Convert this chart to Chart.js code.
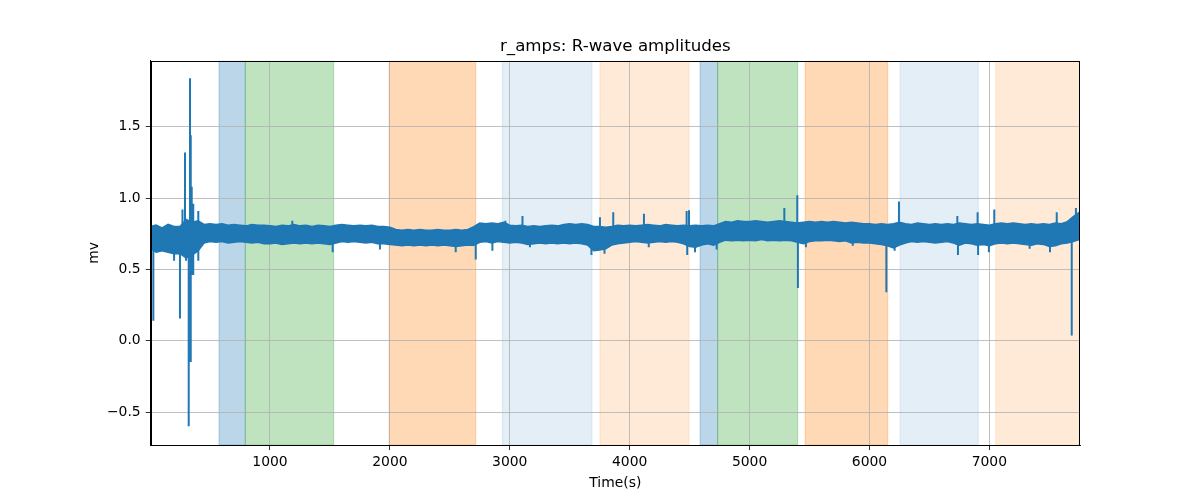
<!DOCTYPE html>
<html><head><meta charset="utf-8">
<script src="https://cdn.jsdelivr.net/npm/chart.js@4.4.0/dist/chart.umd.min.js"></script>
<style>html,body{margin:0;padding:0;background:#fff;}canvas{display:block;}</style>
</head><body>
<canvas id="c" width="1200" height="500"></canvas>
<script>
// ---- data ----
const envTime = [
  0,50,100,150,200,250,300,350,400,450,
  500,550,600,650,700,750,800,850,900,950,
  1000,1050,1100,1150,1200,1250,1300,1350,1400,1450,
  1500,1550,1600,1650,1700,1750,1800,1850,1900,1950,
  2000,2050,2100,2150,2200,2250,2300,2350,2400,2450,
  2500,2550,2600,2650,2700,2750,2800,2850,2900,2950,
  3000,3050,3100,3150,3200,3250,3300,3350,3400,3450,
  3500,3550,3600,3650,3700,3750,3800,3850,3900,3950,
  4000,4050,4100,4150,4200,4250,4300,4350,4400,4450,
  4500,4550,4600,4650,4700,4750,4800,4850,4900,4950,
  5000,5050,5100,5150,5200,5250,5300,5350,5400,5450,
  5500,5550,5600,5650,5700,5750,5800,5850,5900,5950,
  6000,6050,6100,6150,6200,6250,6300,6350,6400,6450,
  6500,6550,6600,6650,6700,6750,6800,6850,6900,6950,
  7000,7050,7100,7150,7200,7250,7300,7350,7400,7450,
  7500,7550,7600,7650,7700,7750,7760];
const envUpper = [
  0.80,0.81,0.79,0.815,0.80,0.80,0.85,0.83,0.84,0.815,
  0.82,0.815,0.82,0.81,0.815,0.81,0.805,0.815,0.81,0.81,
  0.805,0.80,0.81,0.805,0.815,0.805,0.81,0.80,0.81,0.805,
  0.80,0.81,0.815,0.81,0.805,0.81,0.805,0.81,0.80,0.80,
  0.795,0.78,0.775,0.78,0.775,0.78,0.775,0.775,0.78,0.775,
  0.775,0.78,0.775,0.78,0.80,0.825,0.82,0.825,0.82,0.83,
  0.81,0.805,0.81,0.80,0.805,0.80,0.805,0.81,0.805,0.815,
  0.82,0.815,0.82,0.815,0.80,0.80,0.795,0.80,0.81,0.805,
  0.81,0.805,0.81,0.815,0.81,0.805,0.815,0.81,0.805,0.81,
  0.805,0.81,0.805,0.81,0.805,0.82,0.835,0.83,0.84,0.835,
  0.835,0.84,0.835,0.83,0.835,0.84,0.835,0.83,0.825,0.83,
  0.835,0.83,0.835,0.83,0.835,0.83,0.825,0.83,0.825,0.82,
  0.82,0.815,0.82,0.815,0.82,0.83,0.82,0.815,0.825,0.82,
  0.815,0.82,0.815,0.82,0.815,0.825,0.82,0.815,0.82,0.815,
  0.81,0.82,0.825,0.82,0.825,0.82,0.815,0.82,0.815,0.82,
  0.815,0.825,0.82,0.835,0.87,0.90,0.91];
const envLower = [
  0.65,0.62,0.63,0.62,0.61,0.61,0.58,0.60,0.63,0.685,
  0.695,0.69,0.695,0.685,0.69,0.695,0.69,0.685,0.69,0.68,
  0.68,0.685,0.675,0.68,0.685,0.68,0.685,0.68,0.685,0.68,
  0.675,0.685,0.695,0.69,0.695,0.69,0.685,0.69,0.68,0.68,
  0.675,0.67,0.665,0.67,0.665,0.67,0.665,0.67,0.665,0.67,
  0.665,0.66,0.665,0.67,0.67,0.69,0.695,0.685,0.695,0.69,
  0.685,0.69,0.685,0.675,0.68,0.685,0.68,0.685,0.68,0.685,
  0.68,0.685,0.68,0.67,0.63,0.635,0.645,0.67,0.68,0.685,
  0.69,0.695,0.69,0.685,0.69,0.695,0.69,0.695,0.69,0.68,
  0.66,0.655,0.67,0.68,0.67,0.69,0.705,0.70,0.705,0.70,
  0.705,0.70,0.71,0.70,0.705,0.70,0.705,0.70,0.69,0.68,
  0.695,0.70,0.70,0.705,0.70,0.695,0.70,0.685,0.69,0.685,
  0.685,0.68,0.675,0.665,0.65,0.67,0.685,0.695,0.69,0.695,
  0.69,0.685,0.69,0.695,0.685,0.67,0.685,0.68,0.67,0.675,
  0.665,0.68,0.685,0.68,0.685,0.68,0.675,0.67,0.68,0.675,
  0.66,0.665,0.68,0.685,0.695,0.71,0.71];
const spikeTime = [27,200,249,270,291,300,322,333,339,339,
  347,347,360,360,402,402,1186,1523,1917,2549,2716,2855,2963,3106,3168,3681,
  3752,3790,3863,4119,4159,4475,4480,4495,4545,4725,
  5290,5398,5403,5470,5861,6141,6210,6246,6733,6738,
  6902,6906,6996,7041,7336,7506,7562,7687,7722];
const spikeTip = [0.14,0.56,0.155,0.92,1.32,0.56,-0.60,1.84,1.44,-0.15,
  1.08,0.46,0.96,0.46,0.91,0.56,0.84,0.62,0.64,0.62,0.57,0.63,0.84,0.875,0.655,0.60,
  0.865,0.61,0.90,0.89,0.655,0.91,0.60,0.915,0.62,0.64,
  0.93,1.02,0.37,0.655,0.665,0.34,0.63,0.975,0.875,0.60,
  0.90,0.60,0.62,0.92,0.645,0.62,0.90,0.037,0.93];
const spikeBase = 0.74;
const spanStart = [575,794,1993,2938,3752,4587,4734,5463,6255,7053];
const spanEnd   = [794,1531,2716,3686,4495,4734,5401,6152,6908,7770];
const spanColor = ['rgba(31,119,180,0.3)','rgba(44,160,44,0.3)','rgba(255,127,14,0.3)',
  'rgba(31,119,180,0.12)','rgba(255,127,14,0.16)','rgba(31,119,180,0.3)','rgba(44,160,44,0.3)',
  'rgba(255,127,14,0.3)','rgba(31,119,180,0.12)','rgba(255,127,14,0.16)'];
const xTickValues = [1000,2000,3000,4000,5000,6000,7000];
const yTickValues = [-0.5,0,0.5,1,1.5];
const yTickLabels = ['\u22120.5','0.0','0.5','1.0','1.5'];
const xRange = [5,7756];
const yRange = [-0.731,1.962];

// ---- chart ----
const BLUE = '#1f77b4';
const FONT = 'DejaVu Sans';
const upperPts = envTime.map((t,i)=>({x:t,y:envUpper[i]}));
const lowerPts = envTime.map((t,i)=>({x:t,y:envLower[i]}));
const spikePts = [];
spikeTime.forEach((t,i)=>{
  spikePts.push({x:t,y:spikeBase},{x:t,y:spikeTip[i]},{x:t,y:null});
});

const spanPlugin = {
  id:'spans',
  afterLayout(chart){
    const tb = chart.titleBlock, a = chart.chartArea;
    if (tb) { tb.left = a.left; tb.right = a.right; tb.width = a.right - a.left; }
  },
  beforeDraw(chart){
    const {ctx, chartArea:a, scales:{x}} = chart;
    ctx.save();
    ctx.beginPath(); ctx.rect(a.left,a.top,a.right-a.left,a.bottom-a.top); ctx.clip();
    spanStart.forEach((s,i)=>{
      const x0 = x.getPixelForValue(s), x1 = x.getPixelForValue(spanEnd[i]);
      ctx.fillStyle = spanColor[i];
      ctx.fillRect(x0,a.top,x1-x0,a.bottom-a.top);
      ctx.strokeStyle = spanColor[i]; ctx.lineWidth = 1;
      ctx.strokeRect(x0,a.top,x1-x0,a.bottom-a.top);
    });
    ctx.restore();
  }
};
const framePlugin = {
  id:'frame',
  afterDraw(chart){
    const {ctx, chartArea:a} = chart;
    ctx.save();
    ctx.strokeStyle = '#000'; ctx.lineWidth = 1;
    ctx.strokeRect(Math.round(a.left)+0.5, Math.round(a.top)+0.5, Math.round(a.right-a.left)-1, Math.round(a.bottom-a.top));
    ctx.restore();
  }
};

new Chart(document.getElementById('c'), {
  type:'line',
  data:{datasets:[
    {data:upperPts, borderColor:BLUE, backgroundColor:BLUE, borderWidth:1.5, pointRadius:0, fill:'+1', tension:0},
    {data:lowerPts, borderColor:BLUE, backgroundColor:BLUE, borderWidth:1.5, pointRadius:0, fill:false, tension:0},
    {data:spikePts, borderColor:BLUE, borderWidth:2, pointRadius:0, fill:false, spanGaps:false, tension:0}
  ]},
  options:{
    responsive:false, animation:false, devicePixelRatio:1,
    layout:{padding:{left:0,right:120,top:0,bottom:0}},
    plugins:{
      legend:{display:false}, tooltip:{enabled:false},
      title:{display:true, text:'r_amps: R-wave amplitudes', color:'#000',
        font:{family:FONT, size:16.67, weight:'normal'}, padding:{top:36.4,bottom:4.4}}
    },
    scales:{
      x:{type:'linear', min:xRange[0], max:xRange[1],
        afterBuildTicks:s=>{s.ticks = xTickValues.map(v=>({value:v}));},
        afterFit:s=>{s.height = 55;},
        ticks:{color:'#000', font:{family:FONT,size:13.9}, padding:4, maxRotation:0, autoSkip:false,
          callback:v=>String(v)},
        grid:{color:'#b0b0b0', lineWidth:0.8, tickColor:'#000', tickLength:5, drawTicks:true},
        border:{display:true,color:'#000',width:1},
        title:{display:true, text:'Time(s)', color:'#000', font:{family:FONT,size:13.9}, padding:{top:0,bottom:8}}
      },
      y:{type:'linear', min:yRange[0], max:yRange[1],
        afterBuildTicks:s=>{s.ticks = yTickValues.map(v=>({value:v}));},
        afterFit:s=>{s.width = 150.7;},
        ticks:{color:'#000', font:{family:FONT,size:13.9}, padding:5,
          callback:(v,i)=>yTickLabels[i]},
        grid:{color:'#b0b0b0', lineWidth:0.8, tickColor:'#000', tickLength:5, drawTicks:true},
        border:{display:true,color:'#000',width:1},
        title:{display:true, text:'mv', color:'#000', font:{family:FONT,size:13.9}, padding:{top:85.7,bottom:0}}
      }
    }
  },
  plugins:[spanPlugin, framePlugin]
});
</script>
</body></html>
